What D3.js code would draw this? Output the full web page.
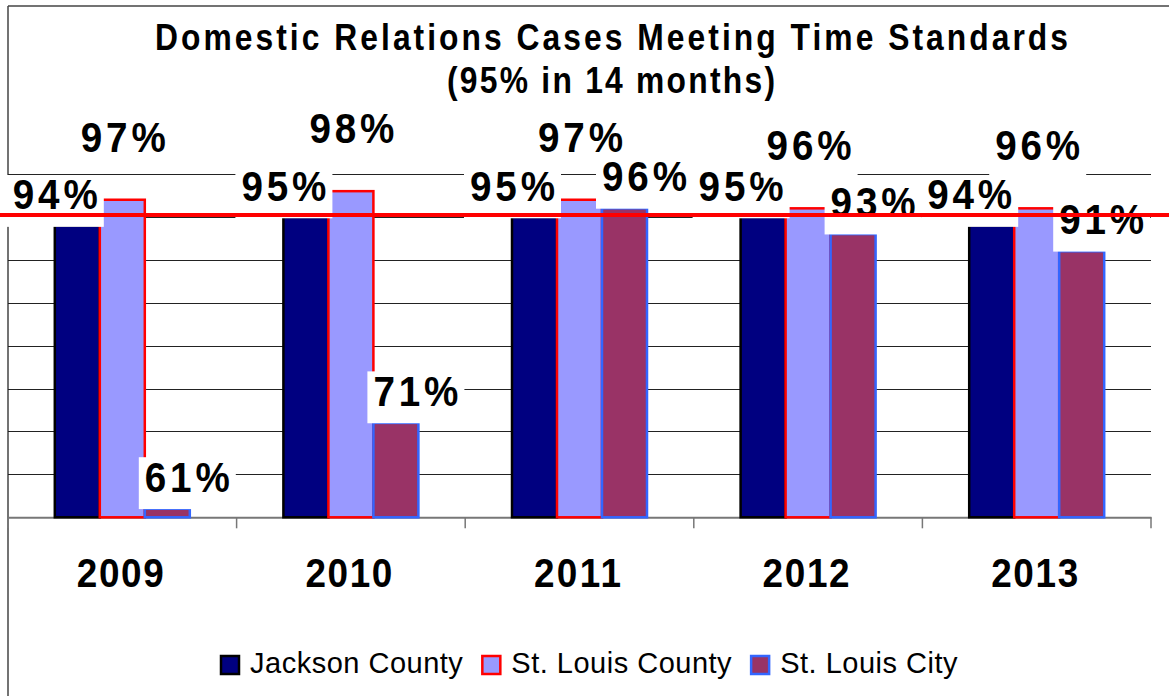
<!DOCTYPE html>
<html>
<head>
<meta charset="utf-8">
<script src="https://cdn.jsdelivr.net/npm/d3@7"></script>
<style>
  html, body { margin: 0; padding: 0; background: #fff; }
  svg { display: block; font-family: "Liberation Sans", Arial, sans-serif; }
</style>
</head>
<body>
<svg id="chart" width="1169" height="696"></svg>
<script>
// Domestic relations cases meeting the 14-month standard, by court
const years = ["2009", "2010", "2011", "2012", "2013"];
const seriesNames = ["Jackson County", "St. Louis County", "St. Louis City"];
const jacksonCounty = [94, 95, 95, 95, 94];
const stLouisCounty = [97, 98, 97, 96, 96];
const stLouisCity = [61, 71, 96, 93, 91];
const targetPct = 95;
const gridTicks = [65, 70, 75, 80, 85, 90, 95, 100];
const titleLines = ["Domestic Relations Cases Meeting Time Standards", "(95% in 14 months)"];

const seriesValues = [jacksonCounty, stLouisCounty, stLouisCity];
const fills = ["#000080", "#9999FF", "#993366"];
const strokes = ["#000000", "#FF0000", "#3366FF"];
// label nudges per series (relative to the bar's top centre)
const labelDx = [-22, 1, 20];
const labelGap = [16, 48, 17];

const W = 1169, H = 696;
const plot = { left: 8, right: 1151, top: 174, bottom: 517.3 };

const svg = d3.select("#chart");

const x0 = d3.scaleBand().domain(years).range([plot.left, plot.right]).padding(0);
const x1 = d3.scaleBand().domain(seriesNames).range([0, x0.bandwidth()])
  .paddingInner(0).paddingOuter(1.04);
const y = d3.scaleLinear().domain([60, 100]).range([plot.bottom, plot.top]);

// outer frame
svg.append("line").attr("x1", plot.left).attr("x2", plot.left).attr("y1", 6).attr("y2", H)
  .attr("stroke", "#444").attr("stroke-width", 1.5);
svg.append("line").attr("x1", plot.left).attr("x2", W).attr("y1", 6).attr("y2", 6)
  .attr("stroke", "#444").attr("stroke-width", 1.5);

// horizontal gridlines
svg.append("g").selectAll("line").data(gridTicks).join("line")
  .attr("x1", plot.left).attr("x2", plot.right)
  .attr("y1", d => Math.round(y(d)) + 0.5).attr("y2", d => Math.round(y(d)) + 0.5)
  .attr("stroke", "#222").attr("stroke-width", 1);

// category axis with tick marks between the years
const xAxis = d3.axisBottom(x0).tickSize(0).tickPadding(0).tickFormat("");
const axisG = svg.append("g").attr("transform", `translate(0,${plot.bottom})`).call(xAxis);
axisG.select(".domain").attr("stroke", "#777").attr("stroke-width", 2);
const boundaries = years.map(yr => x0(yr) + x0.bandwidth()).concat([x0(years[0])]);
axisG.selectAll("line.sep").data(boundaries).join("line").attr("class", "sep")
  .attr("x1", d => d).attr("x2", d => d).attr("y1", 0).attr("y2", 11)
  .attr("stroke", "#777").attr("stroke-width", 1.5);

// year labels
svg.append("g").selectAll("g").data(years).join("g")
  .attr("transform", d => `translate(${x0(d) + x0.bandwidth() / 2 - 2},587) scale(0.9,1)`)
  .append("text")
  .attr("text-anchor", "middle")
  .attr("font-size", 41).attr("font-weight", "bold")
  .attr("textLength", 87 / 0.9).attr("lengthAdjust", "spacing")
  .attr("fill", "#000")
  .text(d => d);

// bars
const barData = [];
years.forEach((yr, i) => {
  seriesNames.forEach((s, j) => {
    barData.push({ year: yr, series: s, si: j, value: seriesValues[j][i] });
  });
});

svg.append("g").selectAll("rect").data(barData).join("rect")
  .attr("x", d => x0(d.year) + x1(d.series))
  .attr("y", d => y(d.value))
  .attr("width", x1.bandwidth())
  .attr("height", d => plot.bottom - y(d.value))
  .attr("fill", d => fills[d.si])
  .attr("stroke", d => strokes[d.si])
  .attr("stroke-width", 2.5);

// value labels on white boxes
const labelScale = 0.92;
const labelG = svg.append("g");
barData.forEach(d => {
  const cx = x0(d.year) + x1(d.series) + x1.bandwidth() / 2 + labelDx[d.si];
  const by = y(d.value) - labelGap[d.si];
  const g = labelG.append("g").attr("transform", `translate(${cx},${by}) scale(${labelScale},1)`);
  const bg = g.append("rect").attr("fill", "#fff");
  const t = g.append("text")
    .attr("x", 0).attr("y", 0)
    .attr("text-anchor", "middle")
    .attr("font-size", 42).attr("font-weight", "bold")
    .attr("textLength", 85 / labelScale).attr("lengthAdjust", "spacing")
    .attr("fill", "#000")
    .text(d.value + "%");
  const bb = t.node().getBBox();
  const padX = 6 / labelScale;
  bg.attr("x", bb.x - padX).attr("y", bb.y + 4)
    .attr("width", bb.width + 2 * padX).attr("height", bb.height + 4);
});

// target line
svg.append("line")
  .attr("x1", 0).attr("x2", W)
  .attr("y1", y(targetPct) - 2).attr("y2", y(targetPct) - 2)
  .attr("stroke", "#FF0000").attr("stroke-width", 4);

// title
const titleWidths = [913, 328];
const titleBase = [50, 93];
const titleScale = 0.86;
titleLines.forEach((line, i) => {
  svg.append("g")
    .attr("transform", `translate(${[611.5, 611][i]},${titleBase[i]}) scale(${titleScale},1)`)
    .append("text")
    .attr("x", 0).attr("y", 0)
    .attr("text-anchor", "middle")
    .attr("font-size", 37).attr("font-weight", "bold")
    .attr("textLength", titleWidths[i] / titleScale)
    .attr("lengthAdjust", "spacing")
    .attr("fill", "#000")
    .text(line);
});

// legend
const legend = svg.append("g");
let lx = 221;
seriesNames.forEach((s, j) => {
  legend.append("rect")
    .attr("x", lx).attr("y", 656).attr("width", 18).attr("height", 18)
    .attr("fill", fills[j]).attr("stroke", strokes[j]).attr("stroke-width", 2.5);
  const t = legend.append("text")
    .attr("x", lx + 29).attr("y", 673)
    .attr("font-size", 29).attr("letter-spacing", 0.5)
    .attr("fill", "#000")
    .text(s);
  lx += 29 + t.node().getComputedTextLength() + 19;
});
</script>
</body>
</html>
